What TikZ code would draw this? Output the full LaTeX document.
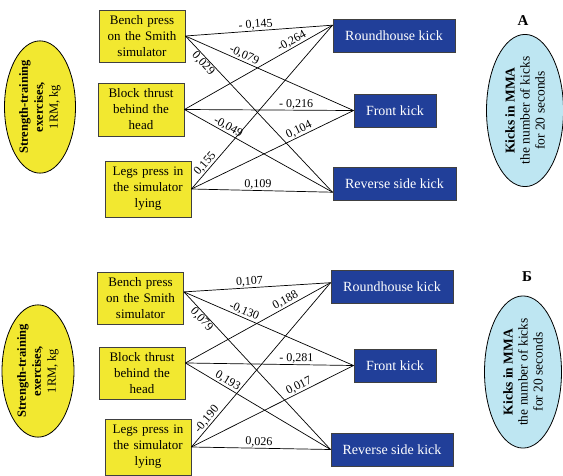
\documentclass[tikz,border=0pt]{standalone}
\usepackage{fontspec}
\setmainfont{Liberation Serif}
\usetikzlibrary{shapes.geometric}

\definecolor{boxyellow}{RGB}{242,232,48}
\definecolor{kickblue}{RGB}{33,63,153}
\definecolor{ovalblue}{RGB}{190,230,242}
\definecolor{rimgray}{RGB}{64,64,64}

\begin{document}
\begin{tikzpicture}[x=1pt,y=-1pt,
  exbox/.style={draw=rimgray, line width=0.9pt, fill=boxyellow, text width=80pt, align=center, inner sep=3pt, font=\fontsize{13}{16}\selectfont},
  kickbox/.style={draw=rimgray, line width=0.9pt, fill=kickblue, text=white, minimum height=33pt, inner sep=0pt, font=\fontsize{14}{16}\selectfont},
  exoval/.style={ellipse, draw, line width=0.8pt, fill=boxyellow, rotate=90, align=center, inner sep=0pt, font=\fontsize{12.5}{15}\selectfont},
  kickoval/.style={ellipse, draw, line width=0.8pt, fill=ovalblue, rotate=90, align=center, inner sep=0pt, font=\fontsize{13.5}{15}\selectfont},
  link/.style={line width=0.7pt},
  coef/.style={sloped, above, inner sep=0.8pt, font=\fontsize{12}{14}\selectfont},
  panel/.style={font=\bfseries\fontsize{15}{18}\selectfont}]
\useasboundingbox (0,0) rectangle (563,475);
% Panel A
\node[exoval, minimum width=127pt, minimum height=71pt] (str1) at (40,107) {\textbf{Strength-training}\\\textbf{exercises,}\\1RM, kg};
\node[exbox, minimum height=52pt] (bench1) at (142,36) {Bench press\\on the Smith\\simulator};
\node[exbox, minimum height=53pt] (block1) at (141,109.5) {Block thrust\\behind the\\head};
\node[exbox, minimum height=56pt] (legs1) at (148,189) {Legs press in\\the simulator\\lying};
\node[kickbox, minimum width=122pt] (rh1) at (394,36) {Roundhouse kick};
\node[kickbox, minimum width=82pt] (fk1) at (395,110.5) {Front kick};
\node[kickbox, minimum width=123pt] (rs1) at (394.5,183.5) {Reverse side kick};
\node[kickoval, minimum width=119pt, minimum height=77pt] (kk1) at (525,110.5) {\textbf{Kicks in MMA}\\the number of kicks\\for 20 seconds};
\node[panel] (tagA) at (523,21) {А};
\draw[link] (bench1.east) -- node[coef, pos=0.48] {- 0,145} (rh1.170);
\draw[link] (bench1.east) -- node[coef, pos=0.335] {-0,079} (fk1.west);
\draw[link] (bench1.east) -- node[coef, below, pos=0.15] {0,029} (rs1.188);
\draw[link] (block1.east) -- node[coef, pos=0.745] {-0,264} (rh1.170);
\draw[link] (block1.east) -- node[coef, pos=0.66] {- 0,216} (fk1.west);
\draw[link] (block1.east) -- node[coef, pos=0.275] {-0,049} (rs1.188);
\draw[link] (legs1.east) -- node[coef, pos=0.13] {0,155} (rh1.170);
\draw[link] (legs1.east) -- node[coef, pos=0.68] {0,104} (fk1.west);
\draw[link] (legs1.east) -- node[coef, pos=0.47] {0,109} (rs1.188);
% Panel B
\node[exoval, minimum width=118pt, minimum height=72pt] (str2) at (38,371) {\textbf{Strength-training}\\\textbf{exercises,}\\1RM, kg};
\node[exbox, minimum height=52pt] (bench2) at (140.5,298) {Bench press\\on the Smith\\simulator};
\node[exbox, minimum height=52pt] (block2) at (142,373) {Block thrust\\behind the\\head};
\node[exbox, minimum height=56pt] (legs2) at (148,447) {Legs press in\\the simulator\\lying};
\node[kickbox, minimum width=122pt] (rh2) at (392,287) {Roundhouse kick};
\node[kickbox, minimum width=82pt] (fk2) at (395,365.5) {Front kick};
\node[kickbox, minimum width=122pt] (rs2) at (392,449.5) {Reverse side kick};
\node[kickoval, minimum width=120pt, minimum height=77pt] (kk2) at (523,372) {\textbf{Kicks in MMA}\\the number of kicks\\for 20 seconds};
\node[panel] (tagB) at (527,277) {Б};
\draw[link] (bench2.8) -- node[coef, pos=0.45] {0,107} (rh2.176);
\draw[link] (bench2.8) -- node[coef, pos=0.34] {-0,130} (fk2.west);
\draw[link] (bench2.8) -- node[coef, below, pos=0.15] {0,079} (rs2.west);
\draw[link] (block2.13) -- node[coef, pos=0.71] {0,188} (rh2.176);
\draw[link] (block2.13) -- node[coef, pos=0.66] {- 0,281} (fk2.west);
\draw[link] (block2.13) -- node[coef, pos=0.27] {0,193} (rs2.west);
\draw[link] (legs2.east) -- node[coef, pos=0.145] {-0,190} (rh2.176);
\draw[link] (legs2.east) -- node[coef, pos=0.68] {0,017} (fk2.west);
\draw[link] (legs2.east) -- node[coef, pos=0.485] {0,026} (rs2.west);
\end{tikzpicture}
\end{document}
